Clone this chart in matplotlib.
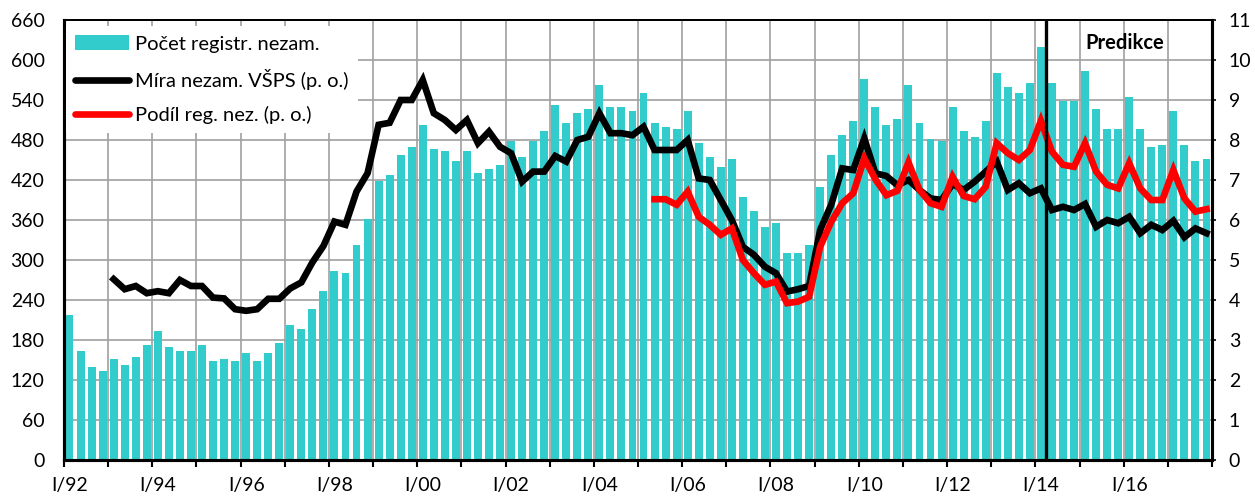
import matplotlib
matplotlib.use("Agg")
import matplotlib.pyplot as plt
from matplotlib.patches import Patch
from matplotlib.lines import Line2D

plt.rcParams['font.family'] = ['Lato', 'DejaVu Sans']

# quarters I/92 .. IV/17
years = list(range(1992, 2018))
roman = ['I', 'II', 'III', 'IV']
quarters = [f"{q}/{str(y)[2:]}" for y in years for q in roman]

# registered unemployed (thousands), left axis
registered = [
    217, 163, 139, 133,
    151, 142, 154, 172,
    193, 169, 163, 163,
    172, 148, 151, 148,
    160, 148, 160, 175,
    202, 196, 226, 253,
    283, 280, 322, 361,
    418, 427, 457, 470,
    502, 466, 463, 448,
    463, 430, 436, 443,
    478, 454, 478, 493,
    532, 505, 520, 526,
    562, 529, 529, 523,
    550, 505, 499, 496,
    523, 475, 454, 439,
    451, 394, 373, 349,
    355, 310, 310, 322,
    409, 457, 487, 508,
    571, 529, 502, 511,
    562, 505, 481, 478,
    529, 493, 484, 508,
    580, 559, 550, 565,
    619, 565, 538, 538,
    583, 526, 496, 496,
    544, 496, 469, 472,
    523, 472, 448, 451,
]

# LFS unemployment rate (%), right axis, from I/93
vsps_start = "I/93"
vsps = [
    4.52, 4.27, 4.35, 4.17,
    4.22, 4.17, 4.50, 4.35,
    4.35, 4.06, 4.04, 3.77,
    3.73, 3.77, 4.03, 4.03,
    4.29, 4.44, 4.94, 5.35,
    5.96, 5.88, 6.71, 7.17,
    8.38, 8.43, 9.00, 9.00,
    9.50, 8.67, 8.50, 8.25,
    8.50, 7.92, 8.21, 7.83,
    7.67, 6.96, 7.21, 7.21,
    7.60, 7.46, 8.00, 8.08,
    8.67, 8.17, 8.17, 8.12,
    8.33, 7.75, 7.75, 7.75,
    8.00, 7.04, 7.00, 6.50,
    6.00, 5.33, 5.13, 4.83,
    4.67, 4.21, 4.27, 4.35,
    5.75, 6.38, 7.29, 7.25,
    8.04, 7.17, 7.10, 6.87,
    7.00, 6.75, 6.54, 6.50,
    6.90, 6.75, 6.96, 7.21,
    7.46, 6.75, 6.92, 6.67,
    6.79, 6.25, 6.33, 6.25,
    6.40, 5.83, 6.00, 5.92,
    6.08, 5.67, 5.88, 5.75,
    5.98, 5.57, 5.79, 5.67,
]

# share of registered unemployed (%), right axis, from II/05
share_start = "II/05"
share = [
    6.52, 6.52, 6.38,
    6.71, 6.08, 5.88, 5.63,
    5.79, 5.00, 4.67, 4.38,
    4.46, 3.92, 3.96, 4.08,
    5.33, 5.95, 6.42, 6.67,
    7.54, 7.02, 6.62, 6.73,
    7.44, 6.75, 6.42, 6.33,
    7.08, 6.60, 6.52, 6.83,
    7.92, 7.67, 7.50, 7.75,
    8.48, 7.71, 7.38, 7.33,
    7.92, 7.21, 6.88, 6.79,
    7.42, 6.79, 6.50, 6.50,
    7.25, 6.54, 6.21, 6.27,
]

forecast_from = "II/14"
left_ticks = list(range(0, 661, 60))
right_ticks = list(range(0, 12))

bar_color = '#33CCCC'
grid_color = '#A0A0A0'
fs = 14

x = list(range(len(quarters)))
i_vsps = quarters.index(vsps_start)
i_share = quarters.index(share_start)
i_fc = quarters.index(forecast_from)

fig = plt.figure(figsize=(12.55, 4.98), dpi=100)
ax = fig.add_axes([64 / 1255, 38 / 498, 1148 / 1255, 440 / 498])

ax.bar(x, registered, width=0.72, color=bar_color, zorder=2)
ax.set_xlim(-0.5, len(quarters) - 0.5)
ax.set_ylim(0, 660)
ax.set_yticks(left_ticks)
ax.tick_params(axis='y', length=0, pad=14, labelsize=fs)

# year boundaries: gridlines + ticks, labels every 2 years at I. quarter
ax.set_xticks([k - 0.5 for k in range(0, len(quarters) + 1, 4)])
ax.set_xticklabels([])
ax.set_xticks([k for k in range(0, len(quarters), 8)], minor=True)
ax.set_xticklabels([quarters[k] for k in range(0, len(quarters), 8)], minor=True)
ax.tick_params(axis='x', which='major', length=5, width=1.5, direction='out')
ax.tick_params(axis='x', which='minor', length=0, pad=12, labelsize=fs)

ax.grid(True, color=grid_color, linewidth=1.2, zorder=0)
ax.set_axisbelow(True)

ax2 = ax.twinx()
ax2.plot(x[i_vsps:i_vsps + len(vsps)], vsps, color='black', lw=4.8,
         solid_joinstyle='miter', zorder=3)
ax2.plot(x[i_share:i_share + len(share)], share, color='#FF0000', lw=4.8,
         solid_joinstyle='miter', zorder=4)
ax2.axvline(i_fc - 0.5, color='black', lw=2.4, zorder=5)
ax2.text(i_fc + 6.6, 10.42, 'Predikce', fontsize=fs + 0.5, fontweight='bold',
         ha='center', va='center')
ax2.set_ylim(0, 11)
ax2.set_yticks(right_ticks)
ax2.tick_params(axis='y', length=3, width=1.2, pad=9, labelsize=fs)

for a in (ax, ax2):
    a.spines['left'].set_linewidth(2.2)
    a.spines['right'].set_linewidth(2.2)
    a.spines['bottom'].set_linewidth(2.2)
    a.spines['top'].set_linewidth(1.4)

handles = [
    Patch(facecolor=bar_color, edgecolor='none'),
    Line2D([], [], color='black', lw=4.8, solid_capstyle='round'),
    Line2D([], [], color='#FF0000', lw=4.8, solid_capstyle='round'),
]
labels = ['Počet registr. nezam.', 'Míra nezam. VŠPS (p. o.)', 'Podíl reg. nez. (p. o.)']
leg = ax2.legend(handles, labels, loc='upper left', bbox_to_anchor=(0.0, 0.99),
                 fontsize=fs + 0.5, frameon=True, fancybox=False, framealpha=1,
                 edgecolor='none', facecolor='white', handlelength=2.7,
                 handletextpad=0.3, labelspacing=0.8, borderaxespad=0.1,
                 borderpad=0.45)
leg.set_zorder(10)

fig.savefig('out.png', dpi=100)
